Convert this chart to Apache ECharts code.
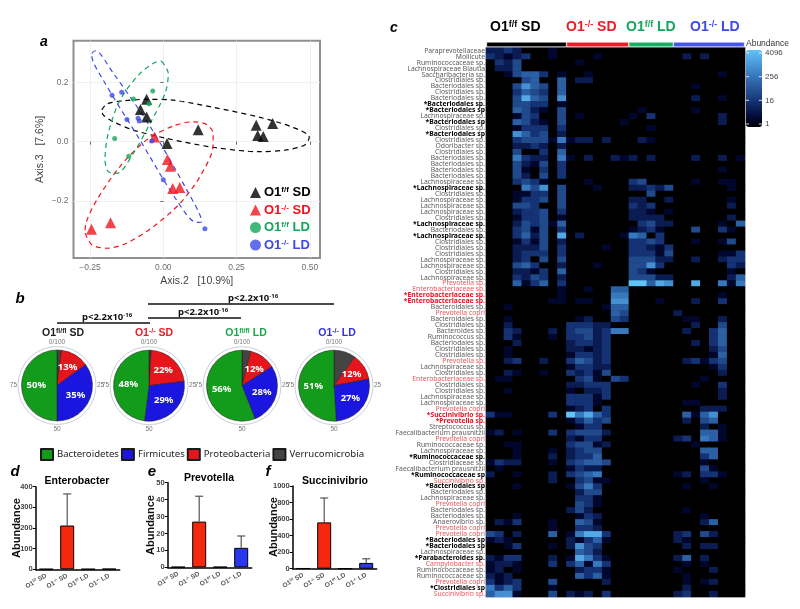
<!DOCTYPE html>
<html><head><meta charset="utf-8">
<style>html,body{margin:0;padding:0;background:#fff}#c{width:800px;height:609px}</style>
<script src="https://cdn.jsdelivr.net/npm/echarts@6/dist/echarts.min.js"></script>
</head><body><div id="c"></div>
<script>
// ---------- panel a ----------
const blackPts=[[-.057,.143],[-.078,.109],[-.057,.083],[.0125,-.006],[.119,.04],[.317,.055],[.373,.061],[.322,.021],[.341,.017]];
const redPts=[[-.03,.016],[.014,-.06],[.024,-.083],[.032,-.158],[.056,-.155],[-.18,-.274],[-.245,-.296]];
const greenPts=[[-.036,.171],[-.049,.128],[-.102,.144],[-.166,.011],[-.118,-.049]];
const bluePts=[[-.175,.157],[-.142,.167],[-.124,.075],[-.086,.079],[-.082,.07],[-.039,.002],[0,-.129],[.142,-.294]];
const blackRing=[[-.21,.107],[-.193,.127],[-.136,.138],[-.057,.143],[.034,.14],[.17,.116],[.33,.082],[.443,.048],[.498,.015],[.483,-.011],[.42,-.028],[.33,-.034],[.17,-.019],[.011,.011],[-.102,.039],[-.17,.067],[-.205,.09],[-.21,.107]];
const redRing=[[-.267,-.309],[-.244,-.348],[-.193,-.36],[-.125,-.343],[-.034,-.287],[.057,-.208],[.125,-.118],[.17,-.011],[.17,.028],[.148,.058],[.102,.067],[.034,.053],[-.057,.006],[-.148,-.084],[-.227,-.197],[-.264,-.275],[-.267,-.309]];
const greenRing=[[-.006,.272],[.017,.23],[.006,.163],[-.045,.062],[-.102,-.039],[-.159,-.107],[-.188,-.101],[-.199,-.062],[-.188,.028],[-.148,.14],[-.08,.23],[-.023,.27],[-.006,.272]];
const blueRing=[[-.244,.298],[-.233,.307],[-.17,.23],[-.045,.051],[.08,-.163],[.131,-.27],[.114,-.273],[.045,-.197],[-.08,.006],[-.205,.208],[-.244,.292],[-.244,.298]];
const xTicks=[-.25,0,.25,.5];
const yTicks=[-.2,0,.2];
// ---------- panel b ----------
const phyla=['Bacteroidetes','Firmicutes','Proteobacteria','Verrucomicrobia'];
const pieOrder=[3,2,1,0];
const pieValues=[[50,35,13,2],[48,29,22,1],[56,28,12,4],[51,27,12,10]];
// ---------- panels d e f ----------
const barCats=['{n|O1}{s|f/f}{n| SD}','{n|O1}{s|-/-}{n| SD}','{n|O1}{s|f/f}{n| LD}','{n|O1}{s|-/-}{n| LD}'];
const enteroMean=[1,212,1,2], enteroTop=[1,365,1,2];
const prevoMean=[.2,27,.2,11.5], prevoTop=[.2,42,.2,18.5];
const succiMean=[5,560,1,70], succiTop=[5,855,1,120];
// ---------- panel c ----------
const groupSizes=[9,7,5,8];
const rowLabels=['Paraprevotellaceae','Mollicute','Ruminococcaceae sp.','Lachnospiraceae Blautia','Saccharibacteria sp.','Clostridiales sp.','Bacteriodales sp.','Clostridiales sp.','Bacteriodales sp.','*Bacteriodales sp.','*Bacteriodales sp','Lachnospiraceae sp.','*Bacteriodales sp','Clostridiales sp.','*Bacteriodales sp','Clostridiales sp.','Odoribacter sp.','Clostridiales sp.','Bacteriodales sp.','Bacteriodales sp.','Bacteriodales sp.','Bacteriodales sp.','Lachnospiraceae sp.','*Lachnospiraceae sp.','Clostridiales sp.','Lachnospiraceae sp.','Lachnospiraceae sp.','Lachnospiraceae sp.','Clostridiales sp.','*Lachnospiraceae sp.','Bacteriodales sp.','*Lachnospiraceae sp.','Clostridiales sp.','Clostridiales sp.','Clostridiales sp.','Lachnospiraceae sp.','Lachnospiraceae sp.','Clostridiales sp.','Lachnospiraceae sp.','Prevotella sp.','Enterobacteriaceae sp.','*Enterobacteriaceae sp.','*Enterobacteriaceae sp.','Bacteroidales sp.','Prevotella copri','Bacteroidales sp.','Clostridiales sp.','Bacteroides sp.','Ruminococcus sp.','Bacteriodales sp.','Clostridiales sp.','Clostridiales sp.','Prevotella sp.','Lachnospiraceae sp.','Clostridiales sp.','Enterobacteriaceae sp.','Clostridiales sp.','Clostridiales sp.','Lachnospiraceae sp.','Lachnospiraceae sp.','Prevotella copri','*Succinivibrio sp.','*Prevotella sp.','Streptococcus sp.','Faecalibacterium prausnitzii','Prevotella copri','Ruminococcaceae sp.','Lachnospiraceae sp.','*Ruminococcaceae sp.','Clostridiaceae sp.','Faecalibacterium prausnitzii','*Ruminococcaceae sp','Succinivibrio sp.','*Bacteriodales sp','Bacteriodales sp.','Lachnospiraceae sp.','Prevotella copri','Bacteriodales sp.','Bacteriodales sp.','Anaerovibrio sp.','Prevotella copri','Prevotella copri','*Bacteriodales sp','*Bacteriodales sp','Lachnospiraceae sp.','*Parabacteroides sp.','Campylobacter sp.','Ruminococcaceae sp.','Ruminococcaceae sp.','Prevotella copri','*Clostridiales sp','Succinivibrio sp.'];
// one string per row; groups O1f/f SD, O1-/- SD, O1f/f LD, O1-/- LD; digit = colour level
const heatRows=[
'223200010 0 0 0','321230010 0001 0 0202','032400000 01 0 0','022400000 0 0 0',
'001455301 001 0 000001','000045005 022 0 0','000475405 0 0 001','000354305 0 0 0',
'000485407 0 0 002001','000443301 0 0 0','000542104 0 01 001','000143004 01 103 000002',
'000542104 0000001 0 000002','000133303 0 001 0','000753402 0 0 0','000344416 12202 021 0',
'000223202 0 0 0','000400305 0 0 0','000632206 1020021 202 00200201','000421403 0 0 0',
'000410303 0 0 000001','000420403 0 0 0','000343100 001 34 00100110','000064704 0001 22324 00000010',
'000113304 0 004 0','000133404 0 22002 00000010','000443004 0 323 00000020','000233403 0 22101 0',
'000133401 0 2222 00000020','000243415 0 03422 00000105','000341403 0 1231 0040031','000352408 0200001 6503 0',
'000131402 0 3343 0010014','000222403 00001 33213 0','000233303 0 33314 00000113','000230404 0 44422 00200233',
'000453002 0001 4473 00000032','000221305 0 431 0000001','000324302 0 44422 00000025','000513503 0 99587 00800616',
'000000001 0010055 0 0','000000001 0000066 0 000001','000000011 0110077 0001 002003','001 0000155 0 0',
'0 0000054 0 2','001 0120043 0 011002','002 33322 0 002004','00320002 3442366 0 020035',
'00310001 33423 0 000035','0002 23323 0 002035','001 22123 0 000024','001 13323 0 000015',
'0023002 35423 0 023134','0 13322 0 000013','0021001 32314 0 000002','011 0341043 0 0001',
'0 22333 0 001003','001 10223 0 000002','0 33313 0 000002','0 3331 0 011',
'0 12303 0 000222','31100003 96853 0 05157','0 13534 0 02045','0 0133 0 000201',
'12010003 34442 0 00055100','0 2133 0 230651','0011 34412 0 001','00010001 2344 0 00055',
'00010002 2335 0 00035','132200010 34554 0 0001','01 1322 0 00041','20010002 3456 0 120331',
'00000002 03411 0 0001','0001 1463 0 01001','0 0244 0 0','0 0331 0 0',
'0 0431 0 0','0 242 0 01','0001 0132 0 0001','02130001 0541 0 00025',
'00000001 0332 0 0','43020005 16883 0 23042','121 21351 0 21','00130001 2743 0 02022',
'0 0542 0 0','21330002 18631 0 2502','12210003 35163 0 0101','1201 02331 0 10002',
'212 05351 0 01','31230004 00002 0 01012','63530001 0 0 02','57710004 21203 0 23002'
];
const heatPalette=['#000000','#01072c','#0a1c52','#153274','#214a8c','#2c60a4','#3878bc','#4590d2','#52a9e6','#62c3f6'];
const colorbarTicks=[1,16,256,4096];

const FONT='"Liberation Sans",Arial,sans-serif';
const RED='#ee1c25', GREEN='#12a85a', BLUE='#3c4ae6', INK='#000';
const series=[],graphic=[],grid=[],xAxis=[],yAxis=[];

function richFor(size,color){
  const base={fontSize:size,fontWeight:'bold',fontFamily:FONT,color:color,fill:color};
  return {n:base,s:Object.assign({},base,{fontSize:Math.round(size*.62),verticalAlign:'top',lineHeight:size})};
}
function txt(x,y,text,o){
  o=o||{};
  graphic.push({type:'text',x:x,y:y,rotation:o.rotation||0,z:20,style:{text:text,align:o.align||'center',verticalAlign:'middle',
    fontSize:o.size||10,fontWeight:o.weight||'normal',fontStyle:o.fontStyle||'normal',fontFamily:o.font||FONT,fill:o.color||'#000',rich:o.rich}});
}
function hline(x1,x2,y){graphic.push({type:'line',z:20,shape:{x1:x1,y1:y,x2:x2,y2:y},style:{stroke:'#111',lineWidth:1.6}});}
const gt=(p,m,s)=>`{n|${p}}{s|${m}}{n| ${s}}`;

// ---- panel a
grid.push({left:73.5,top:40.7,width:246.5,height:217.3,show:true,borderColor:'#8f8f8f',borderWidth:2,backgroundColor:'#fff'});
xAxis.push({type:'value',gridIndex:0,min:-.3065,max:.5347,axisLine:{show:false},
  axisTick:{customValues:xTicks,length:3,lineStyle:{color:'#666'}},
  axisLabel:{customValues:xTicks,color:'#6e6e6e',fontSize:8.5,fontFamily:FONT,margin:5,formatter:v=>v.toFixed(2).replace('-','\u2212')},
  splitLine:{show:true,lineStyle:{color:'#ececec',width:.8}},
  name:'Axis.2   [10.9%]',nameLocation:'middle',nameGap:18,nameTextStyle:{fontSize:10.5,color:'#444',fontFamily:FONT}});
yAxis.push({type:'value',gridIndex:0,min:-.393,max:.341,axisLine:{show:false},
  axisTick:{customValues:yTicks,length:3,lineStyle:{color:'#666'}},
  axisLabel:{customValues:yTicks,color:'#6e6e6e',fontSize:8.5,fontFamily:FONT,margin:5,formatter:v=>v.toFixed(1).replace('-','\u2212')},
  splitLine:{show:true,lineStyle:{color:'#ececec',width:.8}},
  name:'Axis.3   [7.6%]',nameLocation:'middle',nameGap:28,nameTextStyle:{fontSize:10.5,color:'#444',fontFamily:FONT}});
const aNames=[gt('O1','f/f','SD'),gt('O1','-/-','SD'),gt('O1','f/f','LD'),gt('O1','-/-','LD')];
[[blackRing,'#000'],[redRing,'#f0141e'],[greenRing,'#12a85a'],[blueRing,'#3c4ae6']].forEach(([d,c])=>{
  series.push({type:'line',xAxisIndex:0,yAxisIndex:0,data:d,smooth:.3,showSymbol:false,silent:true,z:2,
    lineStyle:{color:c,width:1.2,type:[5,4]}});
});
[[blackPts,'#000','triangle',11,0],[redPts,'#f0141e','triangle',11,1],[greenPts,'#12a85a','circle',5,2],[bluePts,'#3c4ae6','circle',5,3]].forEach(([d,c,sym,sz,i])=>{
  series.push({type:'scatter',name:aNames[i],xAxisIndex:0,yAxisIndex:0,data:d,symbol:sym,symbolSize:sz,itemStyle:{color:c},z:3});
});
const aColors=[INK,'#f0141e','#12a85a','#3c4ae6'];
const legendA={orient:'vertical',left:245,top:181,itemWidth:11,itemHeight:11,itemGap:4.5,selectedMode:false,padding:5,
  data:aNames.map((n,i)=>({name:n,icon:i<2?'triangle':'circle',textStyle:{rich:richFor(13,aColors[i])}})),
  formatter:n=>n,textStyle:{fontSize:13,padding:[0,0,0,-2]}};

// ---- panels d e f
function barPanel(idx,left,top,height,max,interval,means,tops,title,titleX,titleY,nameX,nameY){
  grid.push({left:left,top:top,width:84,height:height});
  xAxis.push({type:'category',gridIndex:idx,data:barCats,axisLine:{lineStyle:{color:'#000',width:1.5}},
    axisTick:{length:3,alignWithLabel:true,lineStyle:{color:'#000',width:1}},
    axisLabel:{interval:0,rotate:30,margin:6,formatter:v=>v,rich:richFor(6.5,'#555')}});
  yAxis.push({type:'value',gridIndex:idx,min:0,max:max,interval:interval,splitLine:{show:false},
    axisLine:{show:true,lineStyle:{color:'#000',width:1.5}},axisTick:{show:true,length:3,lineStyle:{color:'#000',width:1}},
    axisLabel:{color:'#444',fontSize:7.5,fontWeight:'bold',margin:3,fontFamily:FONT,formatter:v=>String(v)}});
  series.push({type:'bar',xAxisIndex:idx,yAxisIndex:idx,barWidth:14,z:3,
    data:means.map((v,i)=>({value:v,itemStyle:{color:['#000','#f5280f','#000','#2a36ee'][i]}})),
    itemStyle:{borderColor:'#000',borderWidth:1}});
  series.push({type:'custom',xAxisIndex:idx,yAxisIndex:idx,z:2,encode:{x:0,y:[1,2]},
    data:means.map((v,i)=>[i,v,tops[i]]),
    renderItem:(p,api)=>{
      const a=api.coord([api.value(0),api.value(1)]),b=api.coord([api.value(0),api.value(2)]);
      const st={stroke:'#555',lineWidth:1.2};
      if(a[1]-b[1]<1) return {type:'group',children:[]};
      return {type:'group',children:[
        {type:'line',shape:{x1:a[0],y1:a[1],x2:b[0],y2:b[1]},style:st},
        {type:'line',shape:{x1:b[0]-4,y1:b[1],x2:b[0]+4,y2:b[1]},style:st}]};
    }});
  txt(titleX,titleY,title,{size:10.5,weight:'bold'});
  txt(nameX,nameY,'Abundance',{size:11,weight:'bold',rotation:Math.PI/2,color:'#111'});
}
barPanel(1,35.7,486.7,82.6,400,100,enteroMean,enteroTop,'Enterobacter',77,481,17,528);
barPanel(2,167.7,482.7,84.6,50,10,prevoMean,prevoTop,'Prevotella',209,478,151,525);
barPanel(3,292.7,486,82.7,1000,200,succiMean,succiTop,'Succinivibrio',335,481,274,527);

// ---- panel c heatmap
const cellData=[];
heatRows.forEach((r,y)=>{
  const s=r.split(/\s+/).map((g,i)=>g.padEnd(groupSizes[i],'0')).join('');
  for(let x=0;x<29;x++) cellData.push([x,y,+s[x]]);
});
grid.push({left:486,top:47.7,width:259,height:549.3,show:true,backgroundColor:'#000',borderColor:'#999',borderWidth:.6});
xAxis.push({type:'category',gridIndex:4,data:Array.from({length:29},(_,i)=>i),show:false});
const rowStyle=s=>s.startsWith('*')?(/Prevotella|Entero|Succini/.test(s)?'br':'b'):(/Prevotella|Entero|Succini|Campylo/.test(s)?'r':'g');
yAxis.push({type:'category',gridIndex:4,inverse:true,data:rowLabels,axisLine:{show:false},axisTick:{show:false},
  axisLabel:{interval:0,margin:1,hideOverlap:false,
    formatter:(v,i)=>`{${rowStyle(rowLabels[i])}|${v}}`,
    rich:{g:{color:'#5a5a5a',fontSize:6.8,fontFamily:'"Noto Sans"'},
      r:{color:'#f0545c',fontSize:6.8,fontFamily:'"Noto Sans"'},
      b:{color:'#000',fontSize:6.8,fontWeight:'bold',fontFamily:'"Noto Sans"'},
      br:{color:'#ee1022',fontSize:6.8,fontWeight:'bold',fontFamily:'"Noto Sans"'}}}});
const heatIdx=series.length;
series.push({type:'heatmap',xAxisIndex:4,yAxisIndex:4,data:cellData,progressive:0,animation:false});

// group strip
grid.push({left:486.5,top:42,width:258,height:5});
xAxis.push({type:'value',gridIndex:5,min:0,max:29,show:false});
yAxis.push({type:'category',gridIndex:5,data:['g'],show:false});
['#000',RED,'#10b060','#4555ee'].forEach((c,i)=>{
  series.push({type:'bar',xAxisIndex:5,yAxisIndex:5,stack:'g',barWidth:5,data:[groupSizes[i]],
    itemStyle:{color:c,borderColor:'#fff',borderWidth:.5},silent:true});
});

// colour-bar axis
grid.push({left:746,top:53,width:16,height:71,z:6});
xAxis.push({type:'value',gridIndex:6,show:false,min:0,max:1});
yAxis.push({type:'log',gridIndex:6,logBase:16,min:1,max:4096,position:'right',z:8,axisLine:{show:false},splitLine:{show:false},
  axisTick:{show:false},
  axisLabel:{color:'#444',fontSize:8,margin:3,align:'left',fontFamily:FONT,customValues:colorbarTicks,formatter:v=>String(Math.round(v))}});
series.push({type:'scatter',xAxisIndex:6,yAxisIndex:6,z:12,silent:true,symbol:'rect',symbolSize:[3,1],itemStyle:{color:'#fff'},
  data:colorbarTicks.flatMap(t=>[[.1,t],[.9,t]])});

// ---- panel b pies
const pieCentres=[[57,385.5],[149,385.7],[242,385.7],[334,385.7]];
const phylaColors=['#139c1c','#1a16e0','#e8141c','#444444'];
const polar=[],angleAxis=[],radiusAxis=[];
pieCentres.forEach((ctr,i)=>{
  polar.push({center:ctr,radius:[0,39]});
  radiusAxis.push({polarIndex:i,show:false,min:0,max:1});
  angleAxis.push({polarIndex:i,type:'value',min:0,max:100,interval:25,startAngle:90,clockwise:true,
    axisLine:{lineStyle:{color:'#ccd0dc',width:1}},axisTick:{show:false},splitLine:{show:false},
    axisLabel:{color:'#777',fontSize:6.5,margin:1,fontFamily:FONT,formatter:v=>v===0?'0/100':v===100?'':String(v)}});
  series.push({type:'pie',center:ctr,radius:[0,35.5],startAngle:90,clockwise:true,silent:true,animation:false,
    data:pieOrder.map(k=>({name:phyla[k],value:pieValues[i][k],itemStyle:{color:phylaColors[k]},
       label:{show:pieValues[i][k]>=10}})),
    itemStyle:{borderColor:'#1a1a1a',borderWidth:.5},
    label:{position:'inside',formatter:p=>p.value+'%',color:'#fff',fontSize:9.5,fontWeight:'bold',fontFamily:'"Noto Sans"'},
    labelLine:{show:false}});
});
const legendB={left:35,top:443,icon:'rect',itemWidth:12,itemHeight:11,itemGap:2,selectedMode:false,data:phyla,
  textStyle:{fontSize:9.6,color:'#222',fontFamily:'"Noto Sans"',padding:[0,0,0,-1]}};

// ---- texts
txt(44,42,'a',{size:14,weight:'bold',fontStyle:'italic'});
txt(20,299,'b',{size:15,weight:'bold',fontStyle:'italic'});
txt(394,28,'c',{size:14,weight:'bold',fontStyle:'italic'});
txt(15,472,'d',{size:15,weight:'bold',fontStyle:'italic'});
txt(152,472,'e',{size:15,weight:'bold',fontStyle:'italic'});
txt(268,472,'f',{size:15,weight:'bold',fontStyle:'italic'});
const pieColors=['#222',RED,'#18a848','#3030e0'];
[[63,'fl/fl','SD'],[154,'-/-','SD'],[246,'fl/fl','LD'],[337,'-/-','LD']].forEach(([x,m,s],i)=>{
  txt(x,333,gt('O1',m,s),{rich:richFor(10.5,pieColors[i])});
});
const pRich={n:{fontSize:9.5,fontWeight:'bold',fontFamily:'"Noto Sans"',fill:'#111',color:'#111'},s:{fontSize:6,fontWeight:'bold',fontFamily:'"Noto Sans"',fill:'#111',color:'#111',verticalAlign:'top',lineHeight:9}};
const pText='{n|p<2.2x10}{s|-16}';
txt(253,298,pText,{rich:pRich});hline(148,334,304);
txt(203,312,pText,{rich:pRich});hline(148,241,318);
txt(107,317,pText,{rich:pRich});hline(57,150,323);
txt(746,44,'Abundance',{align:'left',size:8.5,color:'#333'});
[[490,'f/f','SD',INK],[566,'-/-','SD',RED],[626,'f/f','LD',GREEN],[690,'-/-','LD',BLUE]].forEach(([x,m,s,c])=>{
  txt(x,27,gt('O1',m,s),{align:'left',rich:richFor(14,c)});
});

const chart=echarts.init(document.getElementById('c'),null,{renderer:'canvas'});
chart.setOption({animation:false,backgroundColor:'#fff',textStyle:{fontFamily:FONT},
  grid,xAxis,yAxis,polar,angleAxis,radiusAxis,series,graphic,
  legend:[legendA,legendB],
  visualMap:{type:'continuous',seriesIndex:heatIdx,dimension:2,min:0,max:9,calculable:false,hoverLink:false,realtime:false,
    show:true,left:731,top:35,itemWidth:16,itemHeight:77,text:null,showLabel:false,inRange:{color:heatPalette},z:2}
});
</script></body></html>
